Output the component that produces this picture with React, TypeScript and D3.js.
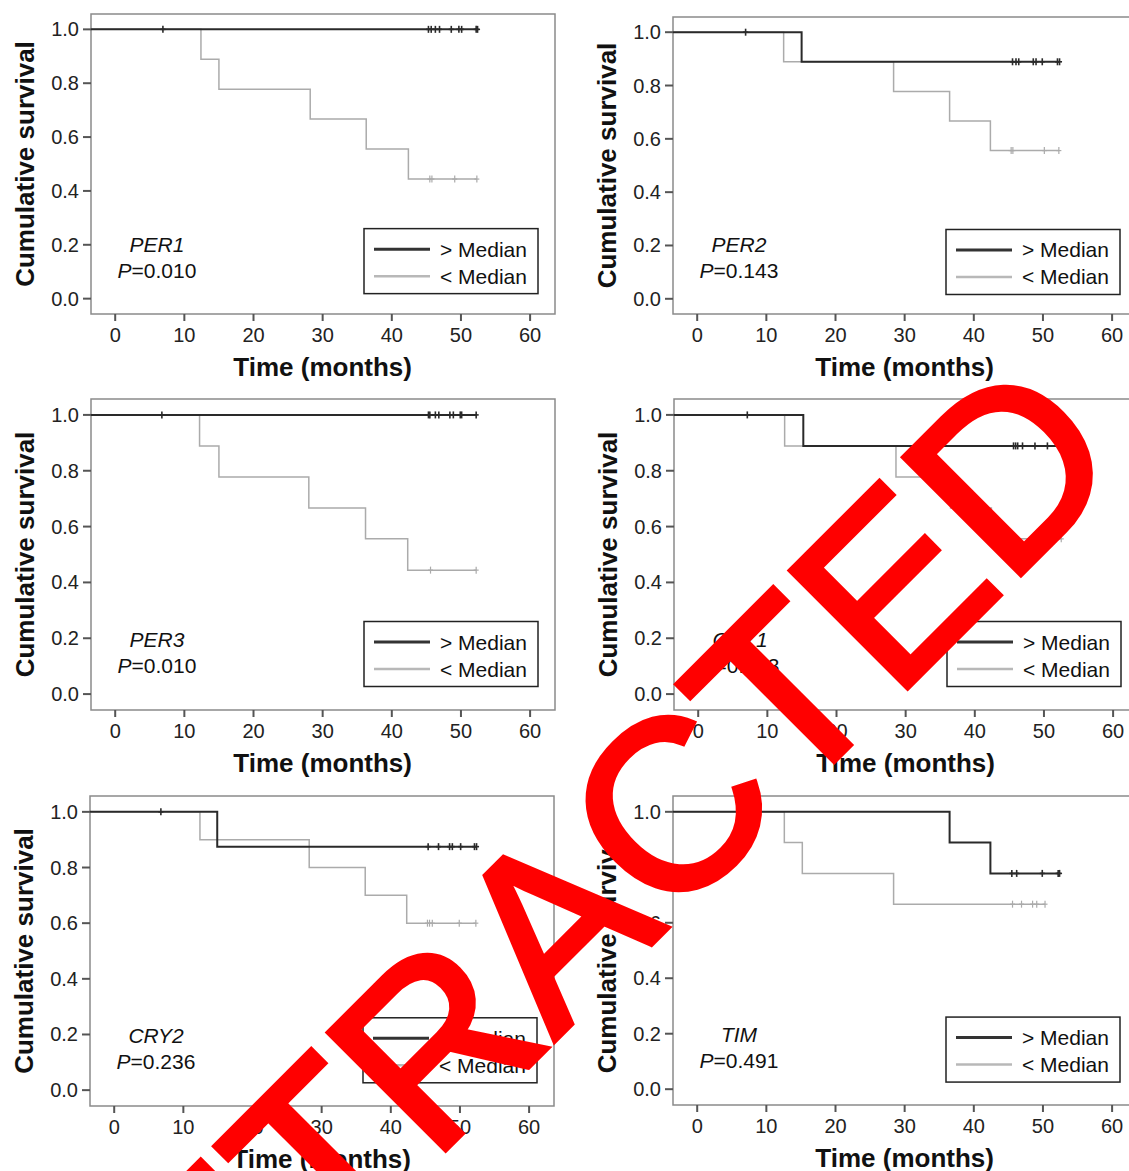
import React from "react";
import * as d3 from "d3";

const genes = ["PER1", "PER2", "PER3", "CRY1", "CRY2", "TIM"];
const pValues = ["0.010", "0.143", "0.010", "0.143", "0.236", "0.491"];
const timeTicks = [0, 10, 20, 30, 40, 50, 60];
const survivalTicks = [0, 0.2, 0.4, 0.6, 0.8, 1.0];
const legendLabels = ["> Median", "< Median"];

// deaths as [time in months, survival after the step], one list per panel
const highDrops: [number, number][][] = [
  [],
  [[15.1, 0.889]],
  [],
  [[15.2, 0.889]],
  [[14.9, 0.875]],
  [[36.5, 0.889], [42.4, 0.778]],
];
const highCensored: number[][] = [
  [6.9, 45.3, 45.7, 46.3, 46.9, 48.6, 49.7, 50.1, 52.2, 52.4],
  [7.0, 45.6, 46.1, 46.5, 48.6, 49.0, 49.9, 52.1, 52.4],
  [6.75, 45.3, 45.5, 46.3, 46.8, 48.4, 48.9, 49.9, 50.1, 52.2],
  [7.1, 45.6, 45.9, 46.2, 46.9, 48.7, 50.5, 52.4],
  [6.75, 45.4, 46.9, 48.5, 48.9, 50.1, 52.1, 52.4],
  [45.5, 46.2, 49.9, 52.2, 52.4],
];
const lowDrops: [number, number][][] = [
  [[12.4, 0.889], [15.0, 0.778], [28.2, 0.667], [36.3, 0.556], [42.4, 0.444]],
  [[12.5, 0.889], [28.4, 0.778], [36.5, 0.667], [42.4, 0.556]],
  [[12.2, 0.889], [15.0, 0.778], [28.0, 0.667], [36.2, 0.556], [42.3, 0.444]],
  [[12.5, 0.889], [28.6, 0.778], [36.5, 0.667], [42.4, 0.556]],
  [[12.4, 0.9], [28.2, 0.8], [36.3, 0.7], [42.3, 0.6]],
  [[12.6, 0.889], [15.2, 0.778], [28.4, 0.667]],
];
const lowCensored: number[][] = [
  [45.5, 45.8, 49.1, 52.3],
  [45.4, 45.65, 50.2, 52.3],
  [45.6, 52.2],
  [45.4, 45.7, 50.2, 52.5],
  [45.3, 45.6, 46.0, 49.9, 52.3],
  [45.6, 46.9, 48.5, 49.1, 50.3],
];

// where each panel's plot frame sits on the page
const layout = [
  { left: 91, top: 14, height: 300 },
  { left: 673, top: 17, height: 297 },
  { left: 91, top: 399, height: 311 },
  { left: 674, top: 399, height: 311 },
  { left: 90, top: 796, height: 310 },
  { left: 673, top: 796, height: 309 },
];
const FRAME_W = 464;
const X_MIN = -3.5;
const FONT = "'Liberation Sans', Arial, sans-serif";

const survivalAt = (drops: [number, number][], t: number) => {
  let s = 1;
  drops.forEach(([dt, ds]) => {
    if (dt <= t) s = ds;
  });
  return s;
};

const Curve = ({ drops, censored, x, y, color, width }) => {
  const end = d3.max(censored) as number;
  // SPSS draws the step line from the left edge of the frame
  const pts: [number, number][] = [[X_MIN, 1], ...drops, [end, survivalAt(drops, end)]];
  const line = d3
    .line<[number, number]>()
    .x((d) => x(d[0]))
    .y((d) => y(d[1]))
    .curve(d3.curveStepAfter);
  return (
    <g>
      <path d={line(pts) || ""} fill="none" stroke={color} strokeWidth={width} />
      {censored.map((t, k) => {
        const cx = x(t);
        const cy = y(survivalAt(drops, t));
        return (
          <g key={k} stroke={color} strokeWidth={width * 0.8}>
            <line x1={cx} x2={cx} y1={cy - 3.5} y2={cy + 3.5} />
            <line x1={cx - 2.5} x2={cx + 2.5} y1={cy} y2={cy} />
          </g>
        );
      })}
    </g>
  );
};

const Panel = ({ i }) => {
  const { left, top, height } = layout[i];
  const bottom = top + height;
  const x = d3.scaleLinear().domain([X_MIN, 63.6]).range([left, left + FRAME_W]);
  const y = d3.scaleLinear().domain([-0.057, 1.057]).range([bottom, top]);
  const lx = left + 273;
  const ly = y(0.26);

  return (
    <g fontFamily={FONT}>
      <rect x={left} y={top} width={FRAME_W} height={height} fill="white" stroke="#8a8a8a" strokeWidth={1.5} />
      {survivalTicks.map((v) => (
        <g key={v}>
          <line x1={left - 8} x2={left} y1={y(v)} y2={y(v)} stroke="#555" strokeWidth={2} />
          <text x={left - 12} y={y(v)} dy="0.35em" textAnchor="end" fontSize={20} fill="#222">
            {d3.format(".1f")(v)}
          </text>
        </g>
      ))}
      {timeTicks.map((t) => (
        <g key={t}>
          <line x1={x(t)} x2={x(t)} y1={bottom} y2={bottom + 7} stroke="#555" strokeWidth={2} />
          <text x={x(t)} y={bottom + 28} textAnchor="middle" fontSize={20} fill="#222">
            {t}
          </text>
        </g>
      ))}
      <text x={x(30)} y={bottom + 62} textAnchor="middle" fontSize={26} fontWeight="bold" fill="#111">
        Time (months)
      </text>
      <text
        transform={`translate(${left - 57},${y(0.5)}) rotate(-90)`}
        textAnchor="middle"
        fontSize={26}
        fontWeight="bold"
        fill="#111"
      >
        Cumulative survival
      </text>

      <Curve drops={lowDrops[i]} censored={lowCensored[i]} x={x} y={y} color="#ababab" width={1.5} />
      <Curve drops={highDrops[i]} censored={highCensored[i]} x={x} y={y} color="#2a2a2a" width={2} />

      <text x={left + 66} y={y(0) - 47} textAnchor="middle" fontSize={21} fontStyle="italic" fill="#111">
        {genes[i]}
      </text>
      <text x={left + 66} y={y(0) - 21} textAnchor="middle" fontSize={21} fill="#111">
        <tspan fontStyle="italic">P</tspan>={pValues[i]}
      </text>

      <rect x={lx} y={ly} width={174} height={65} fill="white" stroke="#222" strokeWidth={1.5} />
      {legendLabels.map((lab, k) => {
        const yy = ly + 20.5 + k * 27;
        return (
          <g key={lab}>
            <line
              x1={lx + 10}
              x2={lx + 66}
              y1={yy}
              y2={yy}
              stroke={k === 0 ? "#333" : "#b8b8b8"}
              strokeWidth={k === 0 ? 3 : 2.5}
            />
            <text x={lx + 76} y={yy + 7.5} fontSize={21} fill="#111">
              {lab}
            </text>
          </g>
        );
      })}
    </g>
  );
};

export default function App() {
  return (
    <svg
      width={1129}
      height={1171}
      style={{ position: "absolute", left: 0, top: 0, display: "block", background: "white" }}
    >
      <rect width={1129} height={1171} fill="white" />
      {genes.map((g, i) => (
        <Panel key={g} i={i} />
      ))}
      <text
        x={611}
        y={984}
        transform="rotate(-45, 611, 984)"
        textAnchor="middle"
        fontFamily={FONT}
        fontSize={240}
        fill="#ff0000"
        stroke="#ff0000"
        strokeWidth={6}
        strokeLinejoin="miter"
      >
        RETRACTED
      </text>
    </svg>
  );
}
